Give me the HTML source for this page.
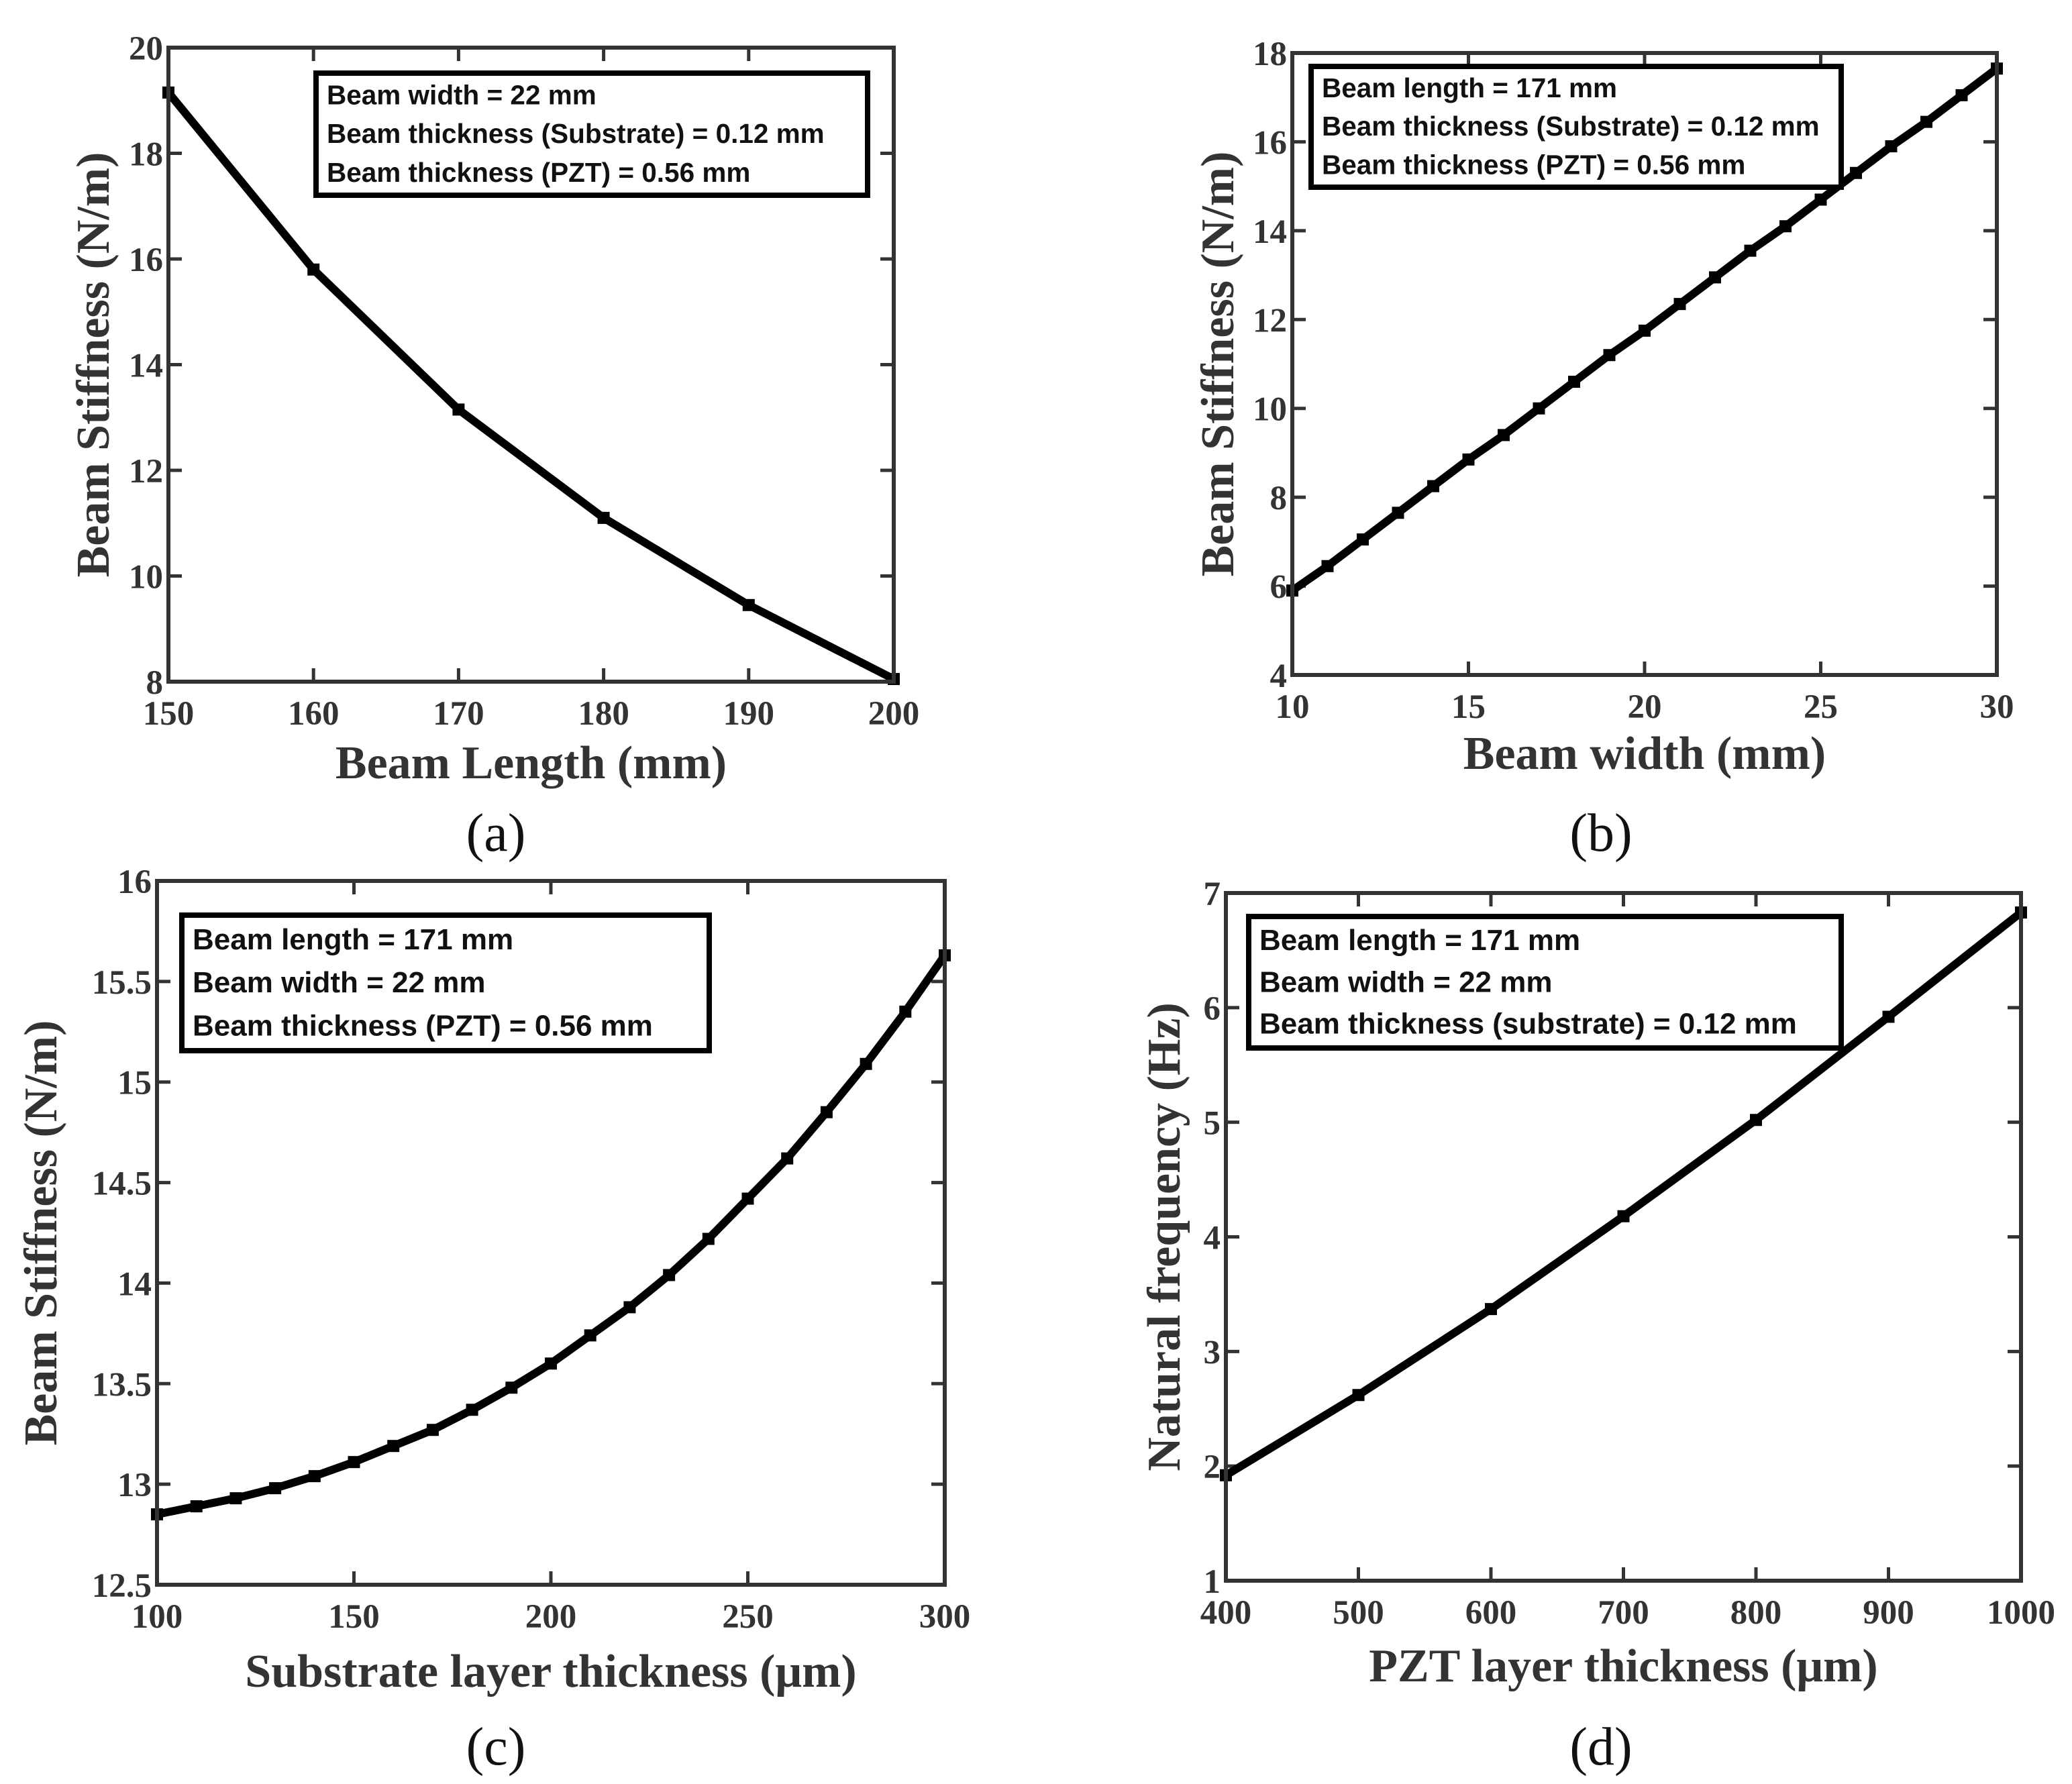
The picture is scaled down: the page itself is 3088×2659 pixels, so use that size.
<!DOCTYPE html>
<html><head><meta charset="utf-8"><style>
html,body{margin:0;padding:0;background:#fff}
svg{display:block}
</style></head><body>
<svg id="fig" width="3088" height="2659" xmlns="http://www.w3.org/2000/svg"></svg>
<script>
const aX=[150,160,170,180,190,200];
const aY=[19.15,15.8,13.15,11.1,9.45,8.05];
const aXTicks=[150,160,170,180,190,200];
const aYTicks=[8,10,12,14,16,18,20];
const bX=[10,11,12,13,14,15,16,17,18,19,20,21,22,23,24,25,26,27,28,29,30];
const bY=[5.9,6.45,7.05,7.65,8.25,8.85,9.4,10.0,10.6,11.2,11.75,12.35,12.95,13.55,14.1,14.7,15.3,15.9,16.45,17.05,17.65];
const bXTicks=[10,15,20,25,30];
const bYTicks=[4,6,8,10,12,14,16,18];
const cX=[100,110,120,130,140,150,160,170,180,190,200,210,220,230,240,250,260,270,280,290,300];
const cY=[12.85,12.89,12.93,12.98,13.04,13.11,13.19,13.27,13.37,13.48,13.6,13.74,13.88,14.04,14.22,14.42,14.62,14.85,15.09,15.35,15.63];
const cXTicks=[100,150,200,250,300];
const cYTicks=[12.5,13,13.5,14,14.5,15,15.5,16];
const dX=[400,500,600,700,800,900,1000];
const dY=[1.92,2.62,3.37,4.18,5.02,5.92,6.83];
const dXTicks=[400,500,600,700,800,900,1000];
const dYTicks=[1,2,3,4,5,6,7];

const NS="http://www.w3.org/2000/svg";
const svg=document.getElementById('fig');
function el(tag,attrs,parent,text){const e=document.createElementNS(NS,tag);for(const k in attrs)e.setAttribute(k,attrs[k]);if(text!==undefined)e.textContent=text;(parent||svg).appendChild(e);return e;}

function panel(id,box,xd,yd,xt,yt,xlab,ylab,ylabX,xlabY,legend,letter,letterX){
  const g=el('g',{});
  
  
  const [L,T,R,B]=box;
  const sx=v=>L+(v-xt[0])/(xt[xt.length-1]-xt[0])*(R-L);
  const sy=v=>B-(v-yt[0])/(yt[yt.length-1]-yt[0])*(B-T);
  xt.forEach(v=>{
    const x=sx(v);
    const t1=el('line',{x1:x,y1:B,x2:x,y2:B-20,stroke:'#333','stroke-width':5},g);
    
    
    el('line',{x1:x,y1:T,x2:x,y2:T+20,stroke:'#333','stroke-width':5},g);
    const tl=el('text',{x:x,y:B+64,'text-anchor':'middle','font-family':'"Liberation Serif",serif','font-weight':'bold','font-size':51,fill:'#333'},g,String(v));
    
    
  });
  yt.forEach(v=>{
    const y=sy(v);
    const t1=el('line',{x1:L,y1:y,x2:L+20,y2:y,stroke:'#333','stroke-width':5},g);
    
    
    el('line',{x1:R,y1:y,x2:R-20,y2:y,stroke:'#333','stroke-width':5},g);
    const tl=el('text',{x:L-8,y:y+18,'text-anchor':'end','font-family':'"Liberation Serif",serif','font-weight':'bold','font-size':51,fill:'#333'},g,String(v));
    
    
  });
  const pts=xd.map((v,i)=>sx(v)+','+sy(yd[i])).join(' ');
  const line=el('polyline',{points:pts,fill:'none',stroke:'#000','stroke-width':12,'stroke-linejoin':'round'},g);
  
  
  xd.forEach((v,i)=>{
    const m=el('rect',{x:sx(v)-9,y:sy(yd[i])-9,width:18,height:18,fill:'#000'},g);
    
    
  });
  const frame=el('rect',{x:L,y:T,width:R-L,height:B-T,fill:'none',stroke:'#333','stroke-width':6},g);
  
  
  const [lx,ly,lx2,ly2,lines,fs]=legend;
  const lg=el('g',{},g);
  
  
  el('rect',{x:lx,y:ly,width:lx2-lx,height:ly2-ly,fill:'#fff',stroke:'#000','stroke-width':8},lg);
  const step=(ly2-ly)/(lines.length+0.15);
  lines.forEach((s,i)=>{
    const t=el('text',{x:lx+16,y:ly+step*(i+0.55)+fs*0.36,'font-family':'"Liberation Sans",sans-serif','font-weight':'bold','font-size':fs,fill:'#111'},lg,s);
    
    
  });
  const xl=el('text',{x:(L+R)/2,y:xlabY,'text-anchor':'middle','font-family':'"Liberation Serif",serif','font-weight':'bold','font-size':70,fill:'#333'},g,xlab);
  
  
  const yc=(T+B)/2;
  const yl=el('text',{x:ylabX,y:yc,'text-anchor':'middle','font-family':'"Liberation Serif",serif','font-weight':'bold','font-size':70,fill:'#333',transform:'rotate(-90 '+ylabX+' '+yc+')'},g,ylab);
  
  
  const pl=el('text',{x:letterX,y:letter[1],'text-anchor':'middle','font-family':'"Liberation Serif",serif','font-size':80,fill:'#111'},g,letter[0]);
  
  
}

panel('a',[251,71,1332,1016],aX,aY,aXTicks,aYTicks,'Beam Length (mm)','Beam Stiffness (N/m)',162,1160,
  [471,109,1293,291,['Beam width = 22 mm','Beam thickness (Substrate) = 0.12 mm','Beam thickness (PZT) = 0.56 mm'],40.5],['(a)',1268],739);
panel('b',[1926,79,2976,1006],bX,bY,bXTicks,bYTicks,'Beam width (mm)','Beam Stiffness (N/m)',1838,1146,
  [1954,99,2744,279,['Beam length = 171 mm','Beam thickness (Substrate) = 0.12 mm','Beam thickness (PZT) = 0.56 mm'],40.5],['(b)',1268],2386);
panel('c',[234,1313,1408,2362],cX,cY,cXTicks,cYTicks,'Substrate layer thickness (\u03bcm)','Beam Stiffness (N/m)',84,2514,
  [271,1364,1057,1566,['Beam length = 171 mm','Beam width = 22 mm','Beam thickness (PZT) = 0.56 mm'],44],['(c)',2630],739);
panel('d',[1827,1331,3012,2356],dX,dY,dXTicks,dYTicks,'PZT layer thickness (\u03bcm)','Natural frequency (Hz)',1758,2506,
  [1861,1366,2744,1562,['Beam length = 171 mm','Beam width  = 22 mm','Beam thickness (substrate) = 0.12 mm'],44],['(d)',2630],2386);
</script>
</body></html>
